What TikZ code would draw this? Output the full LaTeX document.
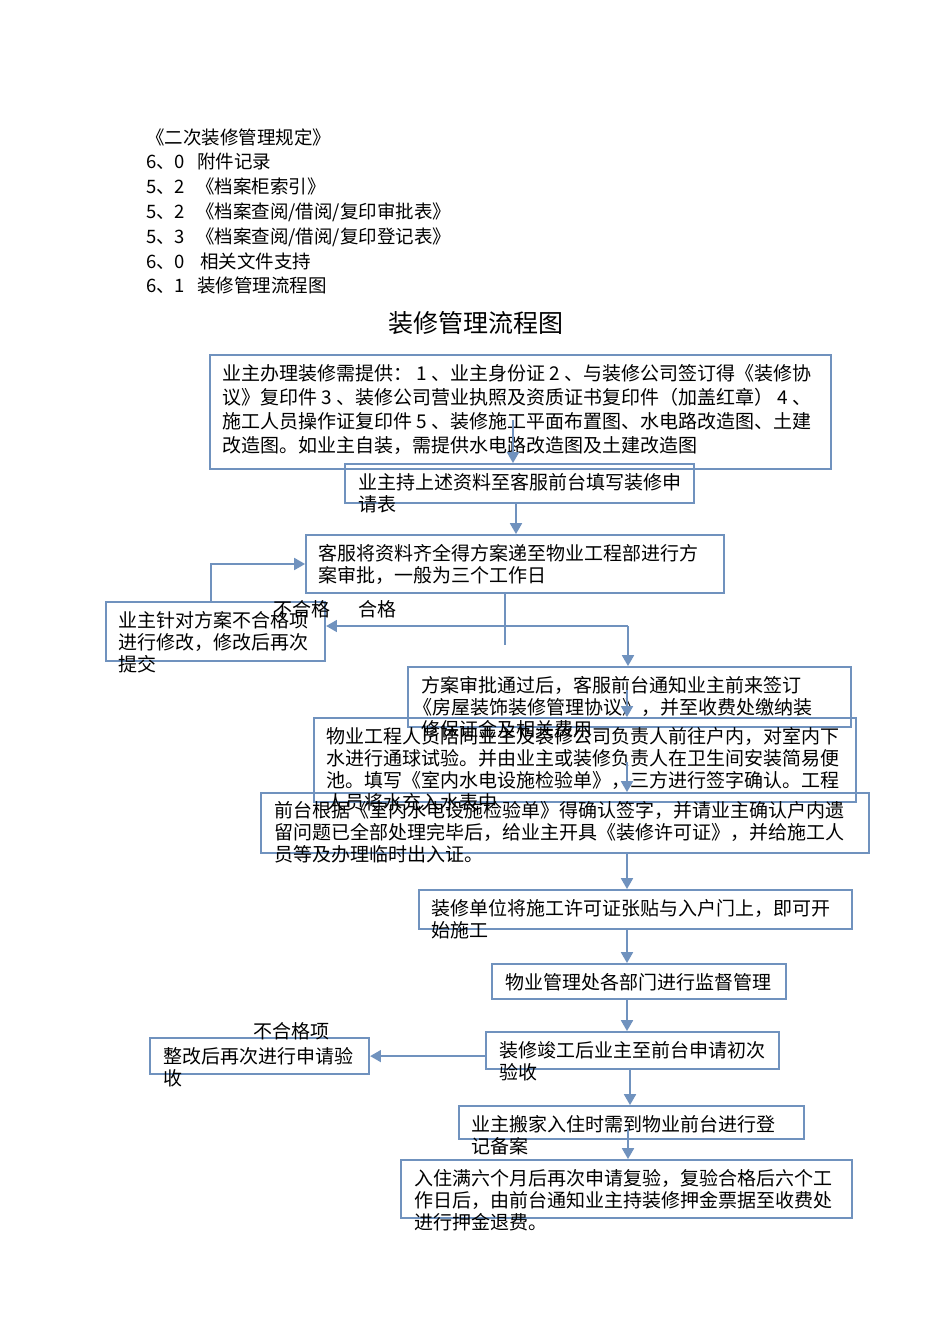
\documentclass[tikz,border=0pt]{standalone}
\usepackage{fontspec}
\setmainfont{Noto Sans CJK SC}
\usepackage{tikz}
\usetikzlibrary{arrows,calc,positioning}
\definecolor{lcline}{RGB}{112,146,190}

\begin{document}
\begin{tikzpicture}[%
    x=1pt, y=-1pt,              % work in page pixels, y going down
    >=triangle 60,              % small filled heads
    line width=2pt
    ]
% -------------------------------------------------
% Box and text styles
\tikzset{
  base/.style={draw=lcline, line width=2.2pt, rectangle, anchor=north west, inner sep=0pt},
  txt/.style={anchor=north west, inner sep=0pt, align=left, font={\fontsize{19}{22}\selectfont}},
  lbl/.style={inner sep=0pt, font={\fontsize{19}{22}\selectfont}},
  % connector styles
  flow/.style={->, draw, lcline},
  link/.style={draw, lcline}
}
\useasboundingbox (0,0) rectangle (950,1344);

% -------------------------------------------------
% Heading lines and title
\node [txt, font={\fontsize{18.5}{24.8}\selectfont}] (refs) at (145,127.5)
  {《二次装修管理规定》\\
   6、0\hspace{12pt}附件记录\\
   5、2\hspace{11pt}《档案柜索引》\\
   5、2\hspace{11pt}《档案查阅/借阅/复印审批表》\\
   5、3\hspace{11pt}《档案查阅/借阅/复印登记表》\\
   6、0\hspace{15pt}相关文件支持\\
   6、1\hspace{12pt}装修管理流程图};
\node [font={\fontsize{25}{30}\selectfont}] (title) at (476,323) {装修管理流程图};

% -------------------------------------------------
% The boxes, top to bottom
\node [base, minimum width=621, minimum height=114] (p1) at (209,354) {};
\node [base, minimum width=349, minimum height=39]  (p2) at (344,463) {};
\node [base, minimum width=418, minimum height=58]  (p3) at (305,534) {};
\node [base, minimum width=219, minimum height=59]  (p4) at (105,601) {};
\node [base, minimum width=443, minimum height=60]  (p5) at (407,666) {};
\node [base, minimum width=542, minimum height=84]  (p6) at (313,717) {};
\node [base, minimum width=608, minimum height=60]  (p7) at (260,792) {};
\node [base, minimum width=433, minimum height=39]  (p8) at (418,889) {};
\node [base, minimum width=294, minimum height=35]  (p9) at (491,963) {};
\node [base, minimum width=293, minimum height=37]  (p10) at (485,1031) {};
\node [base, minimum width=219, minimum height=36]  (p11) at (149,1037) {};
\node [base, minimum width=345, minimum height=33]  (p12) at (458,1105) {};
\node [base, minimum width=451, minimum height=58]  (p13) at (400,1159) {};

% -------------------------------------------------
% Box texts (they run over the frames, as in the original)
\node [txt, font={\fontsize{19}{24}\selectfont}] (q1) at (221,363.5)
  {业主办理装修需提供： 1 、业主身份证 2 、与装修公司签订得《装修协\\
   议》复印件 3 、装修公司营业执照及资质证书复印件（加盖红章） 4 、\\
   施工人员操作证复印件 5 、装修施工平面布置图、水电路改造图、土建\\
   改造图。如业主自装，需提供水电路改造图及土建改造图};
\node [txt] (q2) at (357,472.5) {业主持上述资料至客服前台填写装修申\\请表};
\node [txt] (q3) at (317,543.5) {客服将资料齐全得方案递至物业工程部进行方\\案审批，一般为三个工作日};
\node [txt] (q4) at (117,610.5) {业主针对方案不合格项\\进行修改，修改后再次\\提交};
\node [txt] (q5) at (420,675.5)
  {方案审批通过后，客服前台通知业主前来签订\\
   \hspace*{-8pt}《房屋装饰装修管理协议》，并至收费处缴纳装\\
   修保证金及相关费用};
\node [txt] (q6) at (325,726.5)
  {物业工程人员陪同业主及装修公司负责人前往户内，对室内下\\
   水进行通球试验。并由业主或装修负责人在卫生间安装简易便\\
   池。填写《室内水电设施检验单》，三方进行签字确认。工程\\
   人员将水充入水表中};
\node [txt] (q7) at (273,800.5)
  {前台根据《室内水电设施检验单》得确认签字，并请业主确认户内遗\\
   留问题已全部处理完毕后，给业主开具《装修许可证》，并给施工人\\
   员等及办理临时出入证。};
\node [txt] (q8) at (430,898.5) {装修单位将施工许可证张贴与入户门上，即可开\\始施工};
\node [txt] (q9) at (504,972.5) {物业管理处各部门进行监督管理};
\node [txt] (q10) at (498,1040.5) {装修竣工后业主至前台申请初次\\验收};
\node [txt] (q11) at (162,1046.5) {整改后再次进行申请验\\收};
\node [txt] (q12) at (470,1114.5) {业主搬家入住时需到物业前台进行登\\记备案};
\node [txt] (q13) at (413,1168.5)
  {入住满六个月后再次申请复验，复验合格后六个工\\
   作日后，由前台通知业主持装修押金票据至收费处\\
   进行押金退费。};

% -------------------------------------------------
% Branch labels
\node [lbl] (no1) at (302,609) {不合格};
\node [lbl] (ok1) at (377,609) {合格};
\node [lbl] (no2) at (291,1031) {不合格项};

% -------------------------------------------------
% Connectors
\coordinate (c1) at (513,420);
\draw [flow] (c1) -- (c1 |- p2.north);
\coordinate (c2) at (516,502);
\draw [flow] (c2) -- (c2 |- p3.north);

% split below the review box
\coordinate (c3) at (505,645);
\draw [link] (c3 |- p3.south) -- (c3);
\coordinate (c4) at (628,626);
\draw [flow] (c4) -- (c4 -| p4.east);
\draw [flow] (c4) -- (c4 |- p5.north);

% resubmit loop
\coordinate (c5) at (211,564);
\draw [flow] (c5 |- p4.north) -- (c5) -- (c5 -| p3.west);

\coordinate (c6) at (627,690);
\draw [flow] (c6) -- (c6 |- p6.north);
\coordinate (c7) at (627,762);
\draw [flow] (c7) -- (c7 |- p7.north);
\draw [flow] (c7 |- p7.south) -- (c7 |- p8.north);
\draw [flow] (c7 |- p8.south) -- (c7 |- p9.north);
\draw [flow] (c7 |- p9.south) -- (c7 |- p10.north);

% failed inspection
\draw [flow] (p10.west |- p11.east) -- (p11.east);

\coordinate (c8) at (630,1068);
\draw [flow] (c8) -- (c8 |- p12.north);
\coordinate (c9) at (628,1128);
\draw [flow] (c9) -- (c9 |- p13.north);
% -------------------------------------------------
\end{tikzpicture}
\end{document}
